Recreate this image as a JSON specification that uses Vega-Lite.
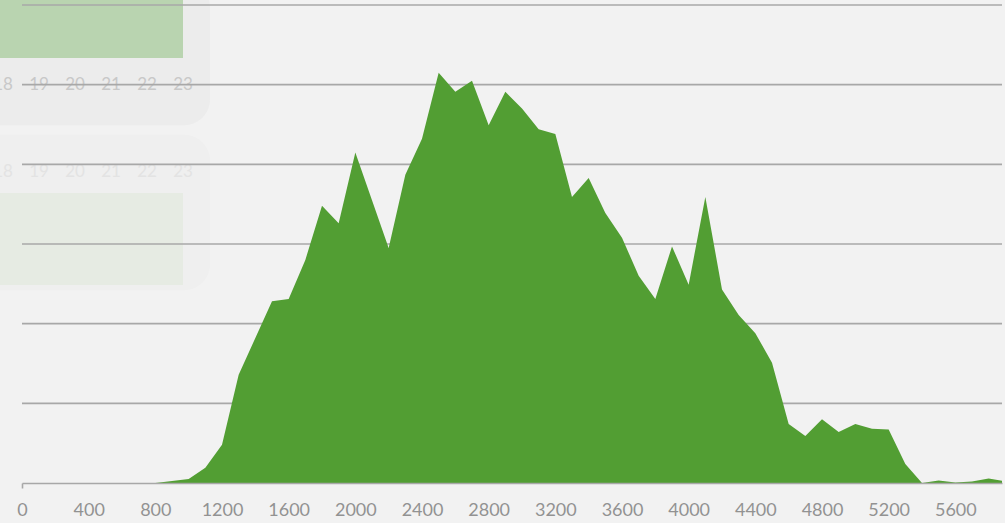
{
  "$schema": "https://vega.github.io/schema/vega-lite/v6.json",
  "width": 980,
  "height": 478,
  "autosize": {"type": "none"},
  "padding": {"left": 22, "top": 5, "right": 3, "bottom": 40},
  "background": "#f2f2f2",
  "config": {"view": {"stroke": null}, "font": "Lato"},
  "datasets": {
    "dist": [
      {"bin": 0, "count": 0}, {"bin": 100, "count": 0}, {"bin": 200, "count": 0}, {"bin": 300, "count": 0},
      {"bin": 400, "count": 0}, {"bin": 500, "count": 0}, {"bin": 600, "count": 0}, {"bin": 700, "count": 0},
      {"bin": 800, "count": 0}, {"bin": 900, "count": 0.25}, {"bin": 1000, "count": 0.5}, {"bin": 1100, "count": 1.9},
      {"bin": 1200, "count": 4.8}, {"bin": 1300, "count": 13.6}, {"bin": 1400, "count": 18.2}, {"bin": 1500, "count": 22.8},
      {"bin": 1600, "count": 23.1}, {"bin": 1700, "count": 28.0}, {"bin": 1800, "count": 34.8}, {"bin": 1900, "count": 32.6},
      {"bin": 2000, "count": 41.5}, {"bin": 2100, "count": 35.5}, {"bin": 2200, "count": 29.5}, {"bin": 2300, "count": 38.7},
      {"bin": 2400, "count": 43.2}, {"bin": 2500, "count": 51.5}, {"bin": 2600, "count": 49.1}, {"bin": 2700, "count": 50.5},
      {"bin": 2800, "count": 44.9}, {"bin": 2900, "count": 49.1}, {"bin": 3000, "count": 47.0}, {"bin": 3100, "count": 44.4},
      {"bin": 3200, "count": 43.8}, {"bin": 3300, "count": 35.9}, {"bin": 3400, "count": 38.3}, {"bin": 3500, "count": 33.9},
      {"bin": 3600, "count": 30.8}, {"bin": 3700, "count": 26.0}, {"bin": 3800, "count": 23.1}, {"bin": 3900, "count": 29.7},
      {"bin": 4000, "count": 24.9}, {"bin": 4100, "count": 35.9}, {"bin": 4200, "count": 24.3}, {"bin": 4300, "count": 21.1},
      {"bin": 4400, "count": 18.8}, {"bin": 4500, "count": 15.1}, {"bin": 4600, "count": 7.4}, {"bin": 4700, "count": 5.9},
      {"bin": 4800, "count": 8.0}, {"bin": 4900, "count": 6.4}, {"bin": 5000, "count": 7.4}, {"bin": 5100, "count": 6.8},
      {"bin": 5200, "count": 6.7}, {"bin": 5300, "count": 2.4}, {"bin": 5400, "count": 0}, {"bin": 5500, "count": 0.3},
      {"bin": 5600, "count": 0.05}, {"bin": 5700, "count": 0.2}, {"bin": 5800, "count": 0.55}, {"bin": 5900, "count": 0.2}
    ],
    "grid": [{"v": 10}, {"v": 20}, {"v": 30}, {"v": 40}, {"v": 50}, {"v": 60}],
    "box1": [{"a": -300, "b": 1128, "c": 44.9, "d": 63}],
    "box2": [{"a": -300, "b": 1128, "c": 24.2, "d": 43.7}],
    "green1": [{"a": -300, "b": 966, "c": 53.35, "d": 63}],
    "green2": [{"a": -300, "b": 966, "c": 24.85, "d": 36.4}],
    "labels1": [
      {"p": -114, "q": 50.0, "t": "18"}, {"p": 102, "q": 50.0, "t": "19"}, {"p": 318, "q": 50.0, "t": "20"},
      {"p": 534, "q": 50.0, "t": "21"}, {"p": 750, "q": 50.0, "t": "22"}, {"p": 966, "q": 50.0, "t": "23"}
    ],
    "labels2": [
      {"p": -114, "q": 39.0, "t": "18"}, {"p": 102, "q": 39.0, "t": "19"}, {"p": 318, "q": 39.0, "t": "20"},
      {"p": 534, "q": 39.0, "t": "21"}, {"p": 750, "q": 39.0, "t": "22"}, {"p": 966, "q": 39.0, "t": "23"}
    ]
  },
  "layer": [
    {
      "data": {"name": "box1"},
      "mark": {"type": "rect", "fill": "#ececec", "cornerRadius": 26, "clip": false},
      "encoding": {
        "x": {
          "field": "a", "type": "quantitative", "scale": {"domain": [0, 5880], "nice": false},
          "axis": {
            "values": [0, 400, 800, 1200, 1600, 2000, 2400, 2800, 3200, 3600, 4000, 4400, 4800, 5200, 5600],
            "format": "d",
            "title": null, "grid": false, "zindex": 1,
            "domainColor": "#a8a8a8", "domainWidth": 1.6,
            "tickSize": 5, "tickWidth": 1.6,
            "tickColor": {"condition": {"test": "datum.value === 0", "value": "#a8a8a8"}, "value": "transparent"},
            "labelColor": "#929292", "labelFontSize": 18, "labelFlush": false, "labelPadding": 13,
            "labelFont": "Lato"
          }
        },
        "x2": {"field": "b"},
        "y": {"field": "c", "type": "quantitative", "scale": {"domain": [0, 60], "nice": false}, "axis": null},
        "y2": {"field": "d"}
      }
    },
    {
      "data": {"name": "box2"},
      "mark": {"type": "rect", "fill": "#efefef", "cornerRadius": 26, "clip": false},
      "encoding": {
        "x": {"field": "a", "type": "quantitative", "scale": {"domain": [0, 5880], "nice": false}},
        "x2": {"field": "b"},
        "y": {"field": "c", "type": "quantitative", "scale": {"domain": [0, 60], "nice": false}, "axis": null},
        "y2": {"field": "d"}
      }
    },
    {
      "data": {"name": "green1"},
      "mark": {"type": "rect", "fill": "#b9d4b0", "clip": false},
      "encoding": {
        "x": {"field": "a", "type": "quantitative", "scale": {"domain": [0, 5880], "nice": false}},
        "x2": {"field": "b"},
        "y": {"field": "c", "type": "quantitative", "scale": {"domain": [0, 60], "nice": false}, "axis": null},
        "y2": {"field": "d"}
      }
    },
    {
      "data": {"name": "green2"},
      "mark": {"type": "rect", "fill": "#e6ebe3", "clip": false},
      "encoding": {
        "x": {"field": "a", "type": "quantitative", "scale": {"domain": [0, 5880], "nice": false}},
        "x2": {"field": "b"},
        "y": {"field": "c", "type": "quantitative", "scale": {"domain": [0, 60], "nice": false}, "axis": null},
        "y2": {"field": "d"}
      }
    },
    {
      "data": {"name": "labels1"},
      "mark": {"type": "text", "color": "#c8c8c8", "fontSize": 17, "baseline": "middle", "clip": false},
      "encoding": {
        "x": {"field": "p", "type": "quantitative", "scale": {"domain": [0, 5880], "nice": false}},
        "y": {"field": "q", "type": "quantitative", "scale": {"domain": [0, 60], "nice": false}, "axis": null},
        "text": {"field": "t"}
      }
    },
    {
      "data": {"name": "labels2"},
      "mark": {"type": "text", "color": "#e3e3e3", "fontSize": 17, "baseline": "middle", "clip": false},
      "encoding": {
        "x": {"field": "p", "type": "quantitative", "scale": {"domain": [0, 5880], "nice": false}},
        "y": {"field": "q", "type": "quantitative", "scale": {"domain": [0, 60], "nice": false}, "axis": null},
        "text": {"field": "t"}
      }
    },
    {
      "data": {"name": "grid"},
      "mark": {"type": "rule", "color": "#a8a8a8", "strokeWidth": 1.6},
      "encoding": {
        "y": {"field": "v", "type": "quantitative", "scale": {"domain": [0, 60], "nice": false}, "axis": null}
      }
    },
    {
      "data": {"name": "dist"},
      "mark": {"type": "area", "color": "#529e33", "clip": true, "interpolate": "linear"},
      "encoding": {
        "x": {"field": "bin", "type": "quantitative", "scale": {"domain": [0, 5880], "nice": false}},
        "y": {"field": "count", "type": "quantitative", "scale": {"domain": [0, 60], "nice": false}, "axis": null}
      }
    }
  ]
}
